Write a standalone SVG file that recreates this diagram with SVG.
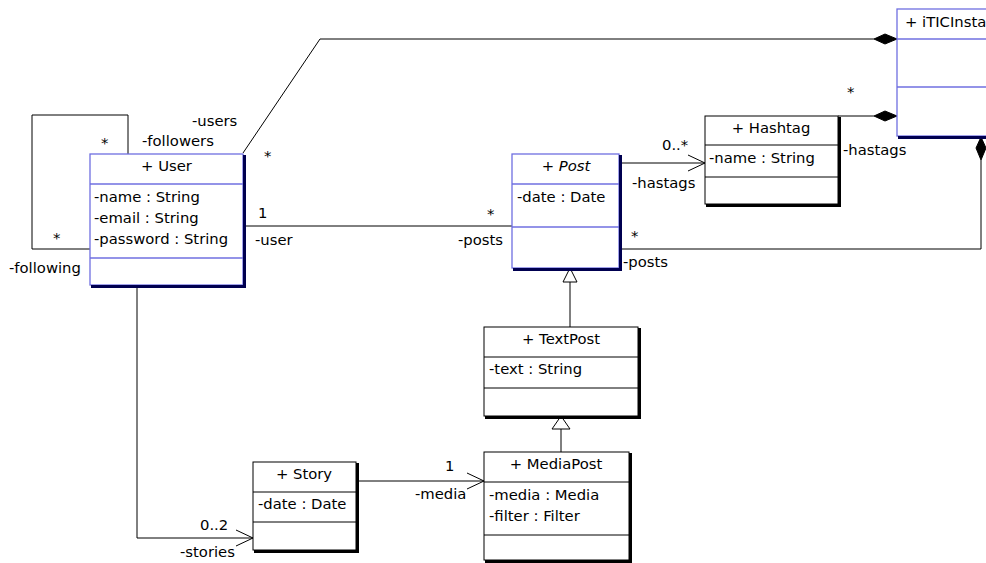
<svg xmlns="http://www.w3.org/2000/svg" width="986" height="563" viewBox="0 0 986 563">
<style>
text{font-family:"DejaVu Sans",Verdana,sans-serif;font-size:14.8px;fill:#000}
.c{text-anchor:middle}
.bb{fill:#fff;stroke:#6f6fe0;stroke-width:1.3}
.bd{stroke:#6f6fe0;stroke-width:1.3}
.bs{fill:none;stroke:#000050;stroke-width:3}
.kb{fill:#fff;stroke:#000;stroke-width:1}
.kd{stroke:#000;stroke-width:1}
.ks{fill:none;stroke:#000;stroke-width:3}
.ln{fill:none;stroke:#000;stroke-width:1}
.dm{fill:#000;stroke:#000}
.tri{fill:#fff;stroke:#000;stroke-width:1}
</style>
<rect width="986" height="563" fill="#fff"/>
<g id="connectors">
<polyline class="ln" points="128,154 128,115 32,115 32,249 90,249"/>
<polyline class="ln" points="243,153 320,39 874,39"/>
<polygon class="dm" points="874,39 885,34 897,39 885,44"/>
<line class="ln" x1="838" y1="116" x2="874" y2="116"/>
<polygon class="dm" points="874,116 885,111 897,116 885,121"/>
<polyline class="ln" points="619,249 981,249 981,160"/>
<polygon class="dm" points="981,137 986,148 981,160 976,148"/>
<line class="ln" x1="243" y1="226" x2="512" y2="226"/>
<line class="ln" x1="619" y1="163" x2="705" y2="163"/>
<polyline class="ln" points="688,155 705,163 688,171"/>
<line class="ln" x1="356" y1="481" x2="484" y2="481"/>
<polyline class="ln" points="467,473 484,481 467,489"/>
<polyline class="ln" points="137,286 137,538 253,538"/>
<polyline class="ln" points="236,530 253,538 236,546"/>
<line class="ln" x1="570" y1="327" x2="570" y2="282"/>
<polygon class="tri" points="570,268 563,282 577,282"/>
<line class="ln" x1="561" y1="452" x2="561" y2="429"/>
<polygon class="tri" points="561,416 552,429 570,429"/>
<text x="192" y="126">-users</text>
<text x="101" y="148">*</text>
<text x="142" y="146">-followers</text>
<text x="53" y="243">*</text>
<text x="9" y="273">-following</text>
<text x="264" y="161">*</text>
<text x="258" y="218">1</text>
<text x="255" y="245">-user</text>
<text x="487" y="219">*</text>
<text x="458" y="245">-posts</text>
<text x="662" y="150">0..*</text>
<text x="632" y="188">-hastags</text>
<text x="631" y="241">*</text>
<text x="623" y="267">-posts</text>
<text x="847" y="97">*</text>
<text x="843" y="155">-hastags</text>
<text x="445" y="471">1</text>
<text x="415" y="499">-media</text>
<text x="200" y="530">0..2</text>
<text x="180" y="557">-stories</text>
</g>
<g id="User">
<rect class="bb" x="90" y="154" width="153" height="131"/>
<polyline class="bs" points="244.5,155 244.5,286.5 91,286.5"/>
<line class="bd" x1="90" y1="184" x2="243" y2="184"/>
<line class="bd" x1="90" y1="258" x2="243" y2="258"/>
<text class="c" x="166.5" y="171">+ User</text>
<text x="94" y="202">-name : String</text>
<text x="94" y="223">-email : String</text>
<text x="94" y="244">-password : String</text>
</g>
<g id="Post">
<rect class="bb" x="512" y="154" width="107" height="114"/>
<polyline class="bs" points="620.5,155 620.5,269.5 513,269.5"/>
<line class="bd" x1="512" y1="184" x2="619" y2="184"/>
<line class="bd" x1="512" y1="227" x2="619" y2="227"/>
<text class="c" x="566" y="171">+ <tspan font-style="italic">Post</tspan></text>
<text x="517" y="202">-date : Date</text>
</g>
<g id="Hashtag">
<rect class="kb" x="705" y="116" width="133" height="88"/>
<polyline class="ks" points="839.5,117 839.5,205.5 706,205.5"/>
<line class="kd" x1="705" y1="145" x2="838" y2="145"/>
<line class="kd" x1="705" y1="177" x2="838" y2="177"/>
<text class="c" x="771" y="133">+ Hashtag</text>
<text x="709" y="163">-name : String</text>
</g>
<g id="iTICInstagram">
<rect class="bb" x="897" y="9" width="100" height="127"/>
<line class="bs" x1="898" y1="137.5" x2="986" y2="137.5"/>
<line class="bd" x1="897" y1="39" x2="986" y2="39"/>
<line class="bd" x1="897" y1="87" x2="986" y2="87"/>
<text x="905" y="27">+ iTICInsta</text>
</g>
<g id="TextPost">
<rect class="kb" x="484" y="327" width="154" height="89"/>
<polyline class="ks" points="639.5,328 639.5,417.5 485,417.5"/>
<line class="kd" x1="484" y1="357" x2="638" y2="357"/>
<line class="kd" x1="484" y1="388" x2="638" y2="388"/>
<text class="c" x="561" y="344">+ TextPost</text>
<text x="489" y="374">-text : String</text>
</g>
<g id="MediaPost">
<rect class="kb" x="484" y="452" width="145" height="108"/>
<polyline class="ks" points="630.5,453 630.5,561.5 485,561.5"/>
<line class="kd" x1="484" y1="482" x2="629" y2="482"/>
<line class="kd" x1="484" y1="535" x2="629" y2="535"/>
<text class="c" x="556" y="469">+ MediaPost</text>
<text x="489" y="500">-media : Media</text>
<text x="489" y="521">-filter : Filter</text>
</g>
<g id="Story">
<rect class="kb" x="253" y="462" width="103" height="88"/>
<polyline class="ks" points="357.5,463 357.5,551.5 254,551.5"/>
<line class="kd" x1="253" y1="492" x2="356" y2="492"/>
<line class="kd" x1="253" y1="522" x2="356" y2="522"/>
<text class="c" x="304" y="479">+ Story</text>
<text x="258" y="509">-date : Date</text>
</g>
</svg>
